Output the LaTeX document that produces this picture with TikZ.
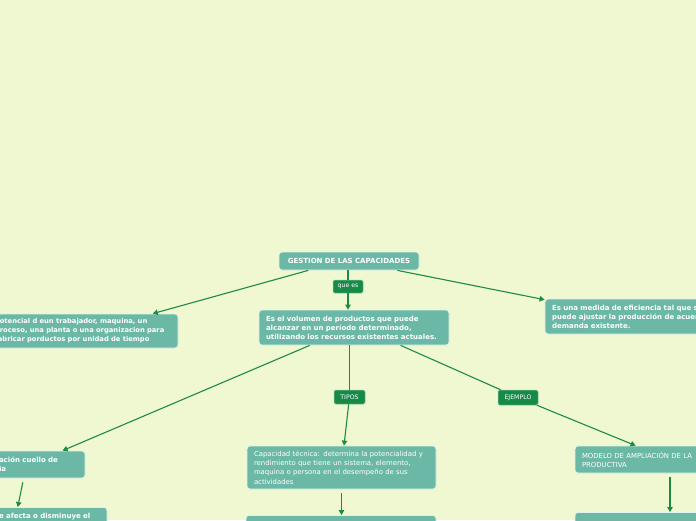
\documentclass[tikz,border=0pt]{standalone}
\usepackage{fontspec}
\setmainfont{DejaVu Sans}
\usetikzlibrary{arrows.meta,calc}
\definecolor{bg}{HTML}{EFF8D1}
\definecolor{nodefill}{HTML}{6BB8A6}
\definecolor{labfill}{HTML}{178A48}
\definecolor{linecol}{HTML}{1E8A45}
\begin{document}
\begin{tikzpicture}[x=1pt,y=-1pt,
  box/.style={rectangle, rounded corners=3pt, fill=nodefill, draw=white!80!nodefill, line width=0.8pt,
    text=white, inner xsep=7pt, inner ysep=0pt, align=left,
    font=\fontsize{7}{9}\selectfont\bfseries},
  boxr/.style={box, font=\fontsize{6.9}{9.3}\selectfont},
  lab/.style={rectangle, rounded corners=1.5pt, fill=labfill, draw=white!50!labfill, line width=0.5pt,
    text=white, inner sep=0pt, font=\fontsize{6.2}{7}\selectfont},
  con/.style={draw=linecol, line width=1.1pt},
  arr/.style={con, -{Triangle[length=5pt,width=5.5pt]}}
]
\useasboundingbox (0,0) rectangle (696,520);
\fill[bg] (0,0) rectangle (696,520);
\clip (0,0) rectangle (696,520);

\node[box, text width=126pt, minimum height=18pt, align=center] (root) at (349,261) {GESTION DE LAS CAPACIDADES};
\node[lab, minimum width=30pt, minimum height=13pt] (quees) at (348,286.5) {que es};
\node[box, text width=176pt, minimum height=35pt] (A) at (354,327.5) {Es el volumen de productos que puede\\alcanzar en un período determinado,\\utilizando los recursos existentes actuales.};
\node[box, text width=176pt, minimum height=34pt, font=\fontsize{6.75}{9}\selectfont\bfseries] (B) at (83,331) {potencial d eun trabajador, maquina, un\\proceso, una planta o una organizacion para\\fabricar porductos por unidad de tiempo};
\node[box, text width=176pt, minimum height=35pt] (C) at (640,316.5) {Es una medida de eficiencia tal que s\\puede ajustar la producción de acuer\\demanda existente.};
\node[lab, minimum width=31pt, minimum height=14pt] (tipos) at (349.5,397) {TIPOS};
\node[lab, minimum width=40pt, minimum height=15pt] (ejemplo) at (518,397.5) {EJEMPLO};
\node[box, text width=79pt, minimum height=27pt] (D) at (38.5,464.5) {ación cuello de\\ia};
\node[box, text width=101pt, inner ysep=5.5pt, anchor=north] (E) at (49.5,507) {e afecta o disminuye el};
\node[boxr, text width=175pt, minimum height=43pt] (F) at (341.5,467.5) {Capacidad técnica: determina la potencialidad y\\rendimiento que tiene un sistema, elemento,\\maquina o persona en el desempeño de sus\\actividades};
\node[box, text width=176pt, minimum height=30pt, anchor=north] (G) at (341,515) {};
\node[boxr, text width=176pt, minimum height=27pt] (H) at (670,459.5) {MODELO DE AMPLIACIÓN DE LA\\PRODUCTIVA};
\node[box, text width=176pt, minimum height=30pt, anchor=north] (I) at (670,512) {};

\coordinate (Etop) at ($(E.north west)!0.226!(E.north east)$);

\draw[arr] (root.193) -- (B.14);
\draw[arr] (root.349) -- (C.170);
\draw[con] (root.south -| quees) -- (quees.north);
\draw[arr] (quees.south) -- (quees.south |- A.north);
\draw[arr] (A.202) -- (D.30);
\draw[con] (A.south -| tipos) -- (tipos.north);
\draw[arr] (tipos) -- (F);
\draw[con] (A.339) -- (ejemplo);
\draw[arr] (ejemplo) -- (H.158);
\draw[arr, shorten <=4pt] (D.223) -- (Etop);
\draw[arr, shorten <=4pt] (F.south) -- (F.south |- G.north);
\draw[arr, shorten <=4pt] (H.south) -- (I.north);
\end{tikzpicture}
\end{document}
